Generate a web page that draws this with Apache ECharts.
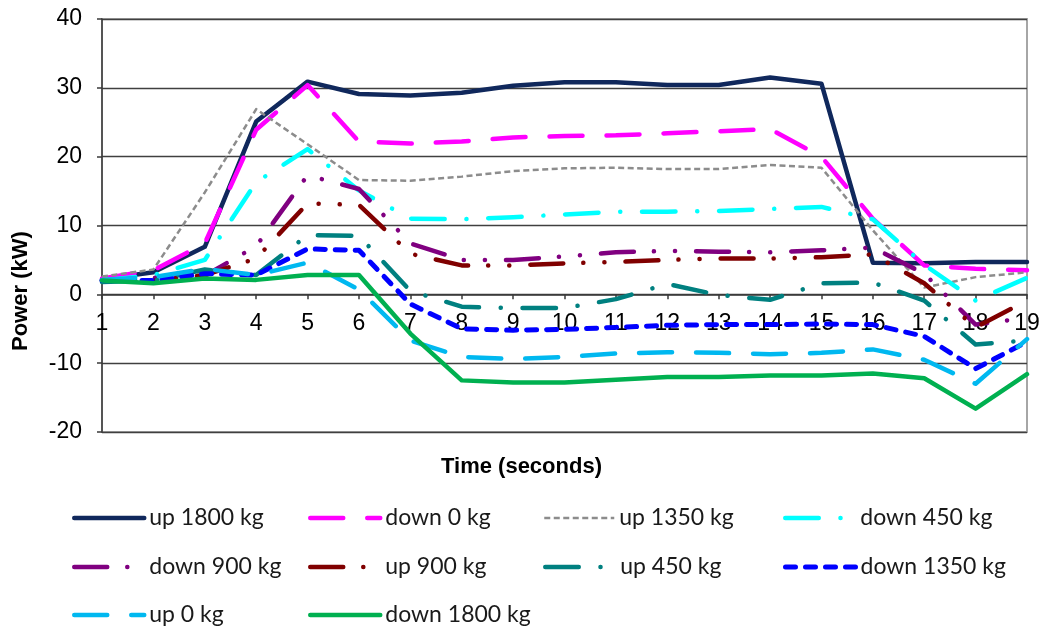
<!DOCTYPE html>
<html>
<head>
<meta charset="utf-8">
<script src="https://cdn.jsdelivr.net/npm/echarts@6/dist/echarts.min.js"></script>
<style>
html,body{margin:0;padding:0;background:#fff;}
#c{width:1043px;height:627px;}
</style>
</head>
<body>
<div id="c"></div>
<script>
// ---- data ----
const categories = ['1','2','3','4','5','6','7','8','9','10','11','12','13','14','15','16','17','18','19'];
const seriesNames = ['up 1800 kg','down 0 kg','up 1350 kg','down 450 kg','down 900 kg','up 900 kg','up 450 kg','down 1350 kg','up 0 kg','down 1800 kg'];
const up1800   = [2.2, 3.2, 6.9, 25.1, 30.9, 29.1, 28.9, 29.3, 30.3, 30.8, 30.8, 30.4, 30.4, 31.5, 30.6, 4.6, 4.5, 4.7, 4.7];
const down0    = [2.3, 3.5, 7.4, 23.9, 30.4, 22.2, 21.9, 22.2, 22.8, 23.0, 23.1, 23.4, 23.7, 24.0, 20.0, 11.0, 4.2, 3.7, 3.5];
const up1350   = [2.6, 3.6, 14.8, 26.9, 21.8, 16.6, 16.5, 17.1, 17.9, 18.3, 18.4, 18.2, 18.2, 18.8, 18.4, 9.3, 1.0, 2.5, 3.2];
const down450  = [2.0, 2.8, 5.0, 16.3, 21.1, 15.1, 11.0, 10.9, 11.2, 11.6, 12.0, 12.0, 12.1, 12.4, 12.7, 10.9, 4.3, -0.9, 2.4];
const down900  = [2.0, 2.4, 2.7, 7.0, 17.3, 15.3, 7.4, 5.0, 5.0, 5.5, 6.1, 6.3, 6.2, 6.1, 6.4, 6.8, 3.0, -4.4, -3.4];
const up900    = [2.0, 2.0, 2.8, 5.2, 13.2, 13.0, 5.9, 4.2, 4.2, 4.5, 4.7, 5.0, 5.2, 5.2, 5.4, 5.8, 1.6, -4.8, -0.9];
const up450    = [1.8, 2.0, 3.6, 2.8, 8.6, 8.5, 0.5, -1.8, -2.0, -2.0, -0.7, 1.5, -0.1, -0.8, 1.6, 1.7, -0.9, -7.3, -6.7];
const down1350 = [2.0, 2.0, 3.0, 2.8, 6.6, 6.4, -1.4, -5.0, -5.2, -5.1, -4.8, -4.5, -4.4, -4.4, -4.3, -4.4, -6.1, -10.8, -6.9];
const up0      = [2.1, 2.5, 3.7, 2.8, 4.6, 0.7, -6.7, -9.1, -9.4, -9.1, -8.6, -8.4, -8.5, -8.7, -8.5, -8.0, -9.5, -13.0, -6.5];
const down1800 = [2.0, 1.6, 2.3, 2.1, 2.8, 2.8, -5.7, -12.5, -12.8, -12.8, -12.4, -12.0, -12.0, -11.8, -11.8, -11.5, -12.2, -16.6, -11.6];
const yTicks = [-20, -10, 0, 10, 20, 30, 40];

const seriesData = [up1800, down0, up1350, down450, down900, up900, up450, down1350, up0, down1800];

// ---- styles ----
const dashDot = [33.5, 21.7, 0.1, 21.7];
const dashDotDot = [33, 20, 0.1, 21, 0.1, 21];
const longDash = [33, 24];
const styles = [
  {color:'#10285C', width:4.5, type:'solid', cap:'round'},
  {color:'#FF00FF', width:4.5, type:longDash, cap:'round'},
  {color:'#8C8C8C', width:2.5, type:[6,3.5], cap:'butt'},
  {color:'#00FFFF', width:4.5, type:dashDot, cap:'round'},
  {color:'#800080', width:4.5, type:dashDotDot, cap:'round'},
  {color:'#800000', width:4.5, type:dashDotDot, cap:'round'},
  {color:'#008080', width:4.5, type:dashDot, cap:'round'},
  {color:'#0000FF', width:5, type:[10,10], cap:'round'},
  {color:'#00B8F0', width:4.5, type:longDash, cap:'round'},
  {color:'#00B050', width:4.5, type:'solid', cap:'round'}
];

const legendX = [72, 308, 543, 783];
const legendY = [518, 567, 615];

const gridTop = 19, gridBottom = 195, chartH = 627;
const plotH = chartH - gridTop - gridBottom;
const zeroOffset = -plotH * (0 - yTicks[0]) / (yTicks[yTicks.length - 1] - yTicks[0]);

const series = seriesNames.map((n, i) => ({
  name: n,
  type: 'line',
  data: seriesData[i],
  symbol: 'none',
  smooth: false,
  lineStyle: {color: styles[i].color, width: styles[i].width, type: styles[i].type, cap: styles[i].cap, join: 'round'},
  itemStyle: {color: styles[i].color},
  emphasis: {disabled: true},
  z: 2 + i
}));

const legends = seriesNames.map((n, i) => ({
  data: [n],
  left: legendX[i % 4],
  top: legendY[Math.floor(i / 4)] - 13,
  padding: 0,
  itemWidth: 70,
  itemHeight: 14,
  itemGap: 0,
  selectedMode: false,
  itemStyle: {opacity: 0},
  lineStyle: {width: styles[i].width, type: styles[i].type, cap: styles[i].cap, color: styles[i].color},
  textStyle: {fontFamily: 'Lato', fontSize: 23, color: '#1a1a1a', lineHeight: 26}
}));

const chart = echarts.init(document.getElementById('c'), null, {renderer: 'canvas'});
chart.setOption({
  animation: false,
  backgroundColor: '#fff',
  grid: {left: 102, right: 16, top: gridTop, bottom: gridBottom, show: true, borderColor: '#A6A6A6', borderWidth: 2, containLabel: false},
  legend: legends,
  xAxis: {
    type: 'category',
    data: categories,
    boundaryGap: false,
    position: 'bottom',
    offset: zeroOffset,
    axisLine: {onZero: false, lineStyle: {color: '#3a3a3a', width: 1.5}},
    axisTick: {show: true, alignWithLabel: true, length: 5, lineStyle: {color: '#3a3a3a', width: 1.5}},
    axisLabel: {fontFamily: 'Liberation Sans', fontSize: 23, color: '#000', margin: 18, interval: 0},
    splitLine: {show: false}
  },
  yAxis: {
    type: 'value',
    min: yTicks[0], max: yTicks[yTicks.length - 1], interval: 10,
    axisLine: {show: true, lineStyle: {color: '#3a3a3a', width: 1.5}},
    axisTick: {show: true, length: 5, lineStyle: {color: '#3a3a3a', width: 1.5}},
    axisLabel: {fontFamily: 'Liberation Sans', fontSize: 23, color: '#000', margin: 20},
    splitLine: {show: true, lineStyle: {color: '#404040', width: 1.3}}
  },
  graphic: [
    {type: 'text', left: 'center', top: 456, style: {text: 'Time (seconds)', font: 'bold 22px "Liberation Sans"', fill: '#000'}},
    {type: 'text', x: 10, y: 351, rotation: Math.PI / 2, style: {text: 'Power (kW)', font: 'bold 22px "Liberation Sans"', fill: '#000'}}
  ],
  series: series
});
</script>
</body>
</html>
